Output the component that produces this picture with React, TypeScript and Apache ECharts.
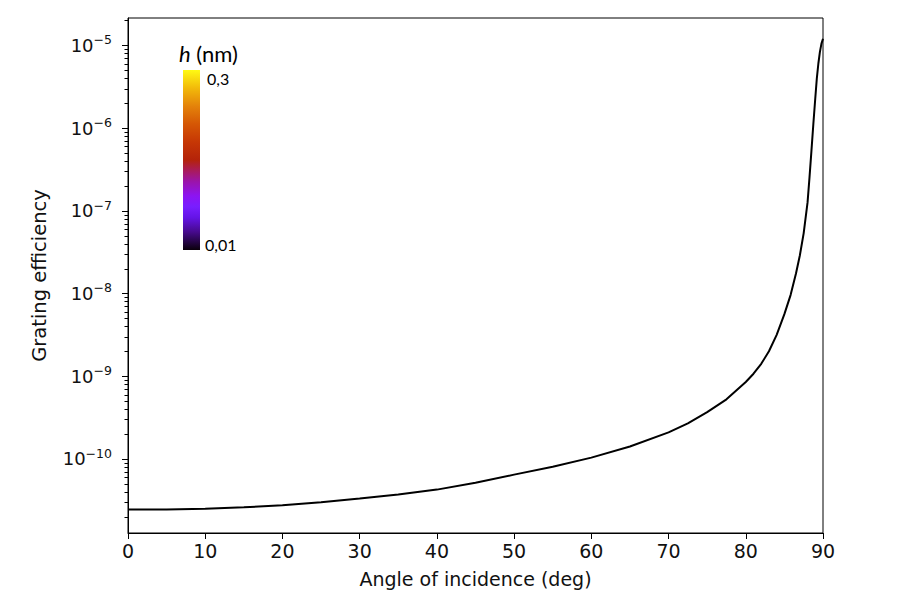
import React, { useEffect, useRef } from "react";
import * as echarts from "echarts";

// ---- data ----
const ANGLES = [0, 5, 10, 15, 20, 25, 30, 35, 40, 45, 50, 55, 60, 65, 70, 72.5, 75, 77.5, 80, 81, 82, 83, 84, 85, 85.8, 86.5, 87, 87.5, 88, 88.25, 88.5, 88.75, 89, 89.2, 89.4, 89.6, 89.8, 90];
const EFFICIENCY = [
  2.44e-11, 2.45e-11, 2.49e-11, 2.6e-11, 2.75e-11, 2.99e-11, 3.31e-11, 3.72e-11, 4.25e-11, 5.13e-11,
  6.45e-11, 8.05e-11, 1.035e-10, 1.41e-10, 2.09e-10, 2.69e-10, 3.67e-10, 5.25e-10, 8.51e-10, 1.07e-9,
  1.41e-9, 2.0e-9, 3.16e-9, 5.62e-9, 9.55e-9, 1.74e-8, 2.88e-8, 5.37e-8, 1.26e-7, 2.51e-7,
  5.25e-7, 1.12e-6, 2.29e-6, 3.98e-6, 6.03e-6, 8.32e-6, 1.05e-5, 1.2e-5,
];

const X_TICKS = [0, 10, 20, 30, 40, 50, 60, 70, 80, 90];
const Y_MAJOR_EXPONENTS = [-10, -9, -8, -7, -6, -5];
const Y_MINOR_MANTISSAS = [2, 3, 4, 5, 6, 7, 8, 9];
const Y_MINOR_DECADES = [-11, -10, -9, -8, -7, -6, -5];
const Y_RANGE = [1.27e-11, 2.14e-5];

const COLORBAR_LABELS = ["0,3", "0,01"];
const COLORBAR_TITLE_VAR = "h";
const COLORBAR_TITLE_UNIT = " (nm)";

const X_TITLE = "Angle of incidence (deg)";
const Y_TITLE = "Grating efficiency";

const GRID = { left: 128, right: 87, top: 18, bottom: 70 };
const W = 910;
const H = 603;

export default function App() {
  const ref = useRef<HTMLDivElement>(null);

  useEffect(() => {
    if (!ref.current) return;
    const chart = echarts.init(ref.current, undefined, { renderer: "svg" });

    const majorTicks: number[] = Y_MAJOR_EXPONENTS.map((e) => Math.pow(10, e));
    const minorTicks: number[] = [];
    Y_MINOR_DECADES.forEach((d) =>
      Y_MINOR_MANTISSAS.forEach((m) => {
        const v = m * Math.pow(10, d);
        if (v > Y_RANGE[0] && v < Y_RANGE[1]) minorTicks.push(v);
      })
    );

    const font = "DejaVu Sans";
    const gradient = new echarts.graphic.LinearGradient(0, 0, 0, 1, [
      { offset: 0, color: "rgb(255,250,20)" },
      { offset: 0.1, color: "rgb(242,186,10)" },
      { offset: 0.2, color: "rgb(228,131,10)" },
      { offset: 0.3, color: "rgb(213,87,5)" },
      { offset: 0.4, color: "rgb(198,55,5)" },
      { offset: 0.5, color: "rgb(180,35,10)" },
      { offset: 0.55, color: "rgb(171,28,79)" },
      { offset: 0.62, color: "rgb(155,20,170)" },
      { offset: 0.7, color: "rgb(140,20,242)" },
      { offset: 0.76, color: "rgb(120,30,255)" },
      { offset: 0.82, color: "rgb(100,20,230)" },
      { offset: 0.9, color: "rgb(70,10,140)" },
      { offset: 1, color: "rgb(10,0,10)" },
    ]);

    const baseGraphic: any[] = [
      {
        id: "cbar",
        type: "rect",
        shape: { x: 183, y: 70, width: 17, height: 180 },
        style: { fill: gradient },
        z: 10,
      },
      {
        id: "cbarTop",
        type: "text",
        x: 207,
        y: 78,
        style: { text: COLORBAR_LABELS[0], fontFamily: "Lato", fontSize: 16, fill: "#000", align: "left", verticalAlign: "middle" },
        z: 10,
      },
      {
        id: "cbarBottom",
        type: "text",
        x: 205,
        y: 244,
        style: { text: COLORBAR_LABELS[1], fontFamily: "Lato", fontSize: 16, fill: "#000", align: "left", verticalAlign: "middle" },
        z: 10,
      },
      {
        id: "cbarTitle",
        type: "text",
        x: 179,
        y: 53,
        style: {
          text: `{i|${COLORBAR_TITLE_VAR}}{n|${COLORBAR_TITLE_UNIT}}`,
          rich: {
            i: { fontFamily: "Lato", fontSize: 22, fontStyle: "italic", fill: "#000" },
            n: { fontFamily: "Lato", fontSize: 22, fill: "#000" },
          },
          fill: "#000",
          align: "left",
          verticalAlign: "middle",
        },
        z: 10,
      },
    ];

    try {
      chart.setOption({
        animation: false,
        grid: { ...GRID, show: true, borderColor: "#000", borderWidth: 1 },
        xAxis: {
          type: "value",
          min: X_TICKS[0],
          max: X_TICKS[X_TICKS.length - 1],
          interval: 10,
          name: X_TITLE,
          nameLocation: "middle",
          nameGap: 36,
          nameTextStyle: { fontFamily: font, fontSize: 19, color: "#111" },
          axisLine: { show: true, onZero: false, lineStyle: { color: "#000", width: 1 } },
          axisTick: { show: true, inside: false, length: 6, lineStyle: { color: "#000", width: 1 } },
          axisLabel: { show: true, margin: 8, fontFamily: font, fontSize: 19, color: "#111" },
          splitLine: { show: false },
        },
        yAxis: {
          type: "log",
          min: Y_RANGE[0],
          max: Y_RANGE[1],
          name: Y_TITLE,
          nameLocation: "middle",
          nameGap: 79,
          nameTextStyle: { fontFamily: font, fontSize: 19.5, color: "#111" },
          axisLine: { show: true, lineStyle: { color: "#000", width: 1 } },
          axisTick: { show: false },
          splitLine: { show: false },
          axisLabel: {
            show: true,
            margin: 16,
            showMinLabel: false,
            showMaxLabel: false,
            formatter: (v: number) => {
              const l = Math.log10(v);
              const e = Math.round(l);
              if (Math.abs(l - e) > 1e-6) return "";
              if (Y_MAJOR_EXPONENTS.indexOf(e) < 0) return "";
              return `{b|10}{s|\u2212${-e}}`;
            },
            rich: {
              b: { fontFamily: font, fontSize: 18, lineHeight: 24, color: "#111", verticalAlign: "middle" },
              s: { fontFamily: font, fontSize: 12.5, lineHeight: 14, color: "#111", verticalAlign: "top" },
            },
          },
        },
        series: [
          {
            type: "line",
            data: ANGLES.map((a, i) => [a, EFFICIENCY[i]]),
            showSymbol: false,
            smooth: false,
            lineStyle: { color: "#000", width: 2 },
            silent: true,
            z: 3,
          },
        ],
        graphic: baseGraphic,
      });
    } catch (e) {
      // keep going: ticks are drawn below
    }

    // y-axis log ticks (major + minor), positioned through the axis scale
    const plotH = H - GRID.top - GRID.bottom;
    const lmin = Math.log10(Y_RANGE[0]);
    const lmax = Math.log10(Y_RANGE[1]);
    let x0: any = NaN;
    try {
      x0 = chart.convertToPixel({ xAxisIndex: 0 }, X_TICKS[0]);
    } catch (e) {
      x0 = NaN;
    }
    if (typeof x0 !== "number" || !isFinite(x0)) x0 = GRID.left;
    const toY = (v: number): number => {
      let y: any = NaN;
      try {
        y = chart.convertToPixel({ yAxisIndex: 0 }, v);
      } catch (e) {
        y = NaN;
      }
      if (typeof y !== "number" || !isFinite(y)) {
        y = GRID.top + ((lmax - Math.log10(v)) / (lmax - lmin)) * plotH;
      }
      return y;
    };
    const zr = chart.getZr();
    const addTick = (v: number, len: number) => {
      const y = Math.round(toY(v)) + 0.5;
      const ln = new (echarts.graphic as any).Line({
        shape: { x1: x0 - len, y1: y, x2: x0, y2: y },
        style: { stroke: "#000", lineWidth: 1 },
        silent: true,
        z: 50,
      });
      zr.add(ln);
    };
    majorTicks.forEach((v) => addTick(v, 6));
    minorTicks.forEach((v) => addTick(v, 3.5));

    return () => chart.dispose();
  }, []);

  return <div ref={ref} style={{ position: "fixed", left: 0, top: 0, width: W, height: H, background: "#fff" }} />;
}
